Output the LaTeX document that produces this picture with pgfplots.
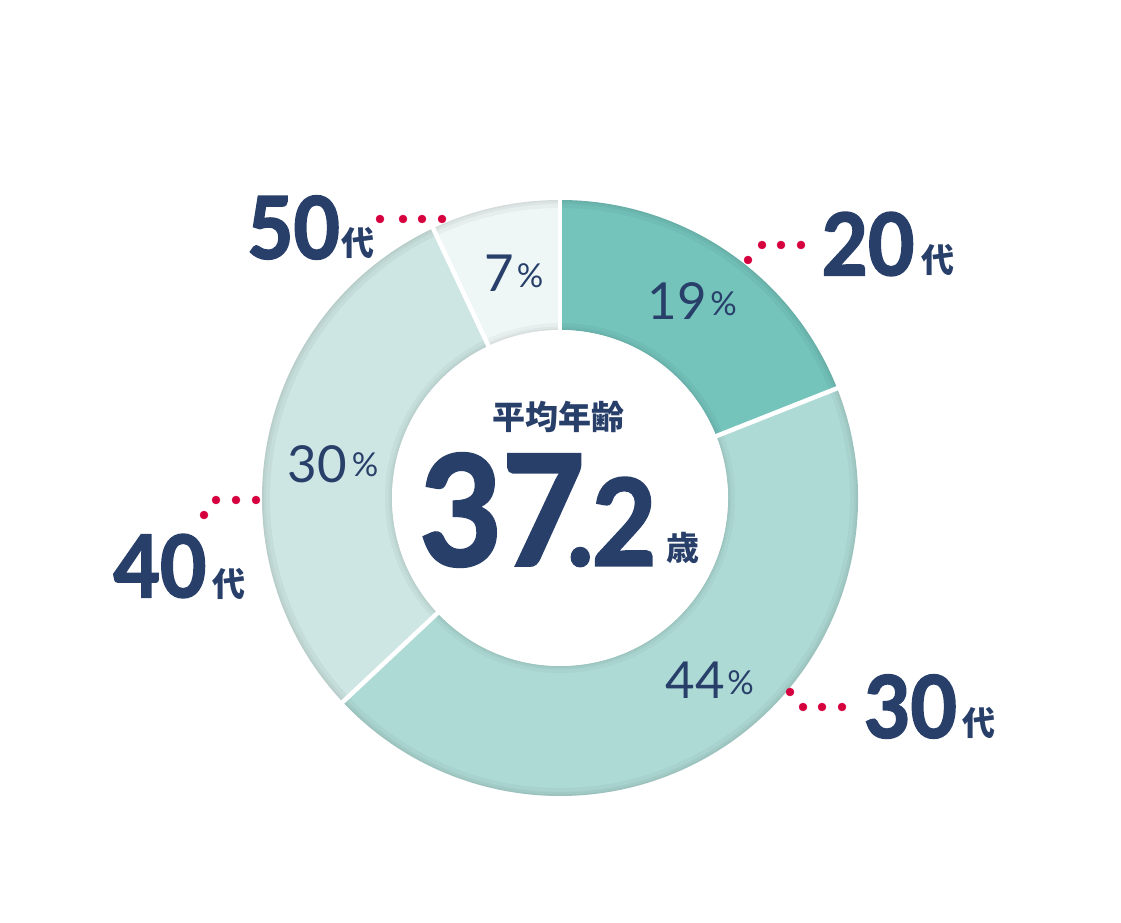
\documentclass[border=0pt]{standalone}
\usepackage{pgfplots}
\pgfplotsset{compat=1.18}
\usepackage{pgfplotstable}
\usepackage{fontspec}
\newfontfamily\numfont{Lato}[BoldFeatures={FakeBold=2.2}]
\newfontfamily\cjk{Noto Sans CJK JP}

\definecolor{navy}{HTML}{283F6A}
\definecolor{dotred}{HTML}{D6003F}
\definecolor{seg20}{HTML}{74C4BC}
\definecolor{seg30}{HTML}{AEDAD5}
\definecolor{seg40}{HTML}{CDE6E3}
\definecolor{seg50}{HTML}{EEF7F6}

% share of each age group (percent)
\pgfplotstableread{
share colour
19 seg20
44 seg30
30 seg40
7 seg50
}\agedata

\newcommand\bignum[2]{\scalebox{0.93}[1]{\numfont\bfseries\fontsize{#1}{#1}\selectfont #2}}
\newcommand\pct[2]{{\numfont\fontsize{#1}{#1}\selectfont #2}}
\newcommand\kan[2]{{\cjk\bfseries\fontsize{#1}{#1}\selectfont #2}}

\begin{document}
\begin{tikzpicture}
\begin{axis}[
    x=1pt, y=1pt,
    xmin=0, xmax=1121,
    ymin=0, ymax=923,
    hide axis,
    clip=false,
]
\path (axis cs:0,0) rectangle (axis cs:1121,923);

% ring segments, clockwise from the top
\def\startang{90}
\pgfplotsforeachungrouped \i in {0,...,3}{%
  \pgfplotstablegetelem{\i}{share}\of\agedata \let\share\pgfplotsretval
  \pgfplotstablegetelem{\i}{colour}\of\agedata \let\segcol\pgfplotsretval
  \pgfmathsetmacro\endang{\startang-3.6*\share}%
  \edef\temp{\noexpand\fill[\segcol] ([shift={(\startang:298pt)}]axis cs:560,425)
     arc[start angle=\startang,end angle=\endang,radius=298pt]
     -- ([shift={(\endang:168pt)}]axis cs:560,425)
     arc[start angle=\endang,end angle=\startang,radius=168pt] -- cycle;}%
  \temp
  \let\startang\endang
}

% soft edge shading
\begin{scope}
\clip (axis cs:560,425) circle[radius=298pt];
\draw[black, opacity=0.035, line width=16pt] (axis cs:560,425) circle[radius=298pt];
\draw[black, opacity=0.035, line width=8pt] (axis cs:560,425) circle[radius=298pt];
\draw[black, opacity=0.035, line width=3pt] (axis cs:560,425) circle[radius=298pt];
\end{scope}
\draw[black, opacity=0.03, line width=14pt] (axis cs:560,425) circle[radius=168pt];
\draw[black, opacity=0.03, line width=7pt] (axis cs:560,425) circle[radius=168pt];
\draw[black, opacity=0.03, line width=3pt] (axis cs:560,425) circle[radius=168pt];
\fill[white] (axis cs:560,425) circle[radius=168pt];

% white gaps between segments
\def\startang{90}
\pgfplotsforeachungrouped \i in {0,...,3}{%
  \pgfplotstablegetelem{\i}{share}\of\agedata \let\share\pgfplotsretval
  \edef\temp{\noexpand\draw[white, line width=4.5pt] ([shift={(\startang:160pt)}]axis cs:560,425)
     -- ([shift={(\startang:310pt)}]axis cs:560,425);}%
  \temp
  \pgfmathsetmacro\startang{\startang-3.6*\share}%
}

% leader dots
\addplot[only marks, mark=*, mark size=4pt, color=dotred] coordinates {
  (748,663) (762,678) (781,678) (801,678)
  (790,231) (803,216) (822,216) (842,216)
  (204,408) (216,423) (236,423) (256,423)
  (380,704) (403,704) (422,704) (442,704)
};

\begin{scope}[every node/.style={inner sep=0pt, text=navy}]
% group labels
\node at (axis cs:868,679) {\bignum{86}{20}};
\node at (axis cs:938,663) {\kan{33}{代}};
\node at (axis cs:910.5,216.5) {\bignum{86}{30}};
\node at (axis cs:979,200) {\kan{33}{代}};
\node at (axis cs:160,357) {\bignum{86}{40}};
\node at (axis cs:228.5,339) {\kan{33}{代}};
\node at (axis cs:293.5,695.5) {\bignum{86}{50}};
\node at (axis cs:358,680.5) {\kan{33}{代}};
% percentages
\node at (axis cs:677,621.5) {\pct{51}{19}};
\node at (axis cs:723.5,619.5) {\pct{33}{\%}};
\node at (axis cs:695,243) {\pct{51}{44}};
\node at (axis cs:740.5,240.5) {\pct{33}{\%}};
\node at (axis cs:317.5,458.5) {\pct{51}{30}};
\node at (axis cs:365,458) {\pct{33}{\%}};
\node at (axis cs:499.5,649.5) {\pct{51}{7}};
\node at (axis cs:530,647.5) {\pct{33}{\%}};
% centre
\node at (axis cs:558.5,506) {\kan{33}{平均年齢}};
\node at (axis cs:538,413) {\bignum{153}{37\kern-19pt\fontsize{120}{120}\selectfont.\kern-2pt2}};
\node at (axis cs:683,375.5) {\kan{33}{歳}};
\end{scope}
\end{axis}
\end{tikzpicture}
\end{document}
